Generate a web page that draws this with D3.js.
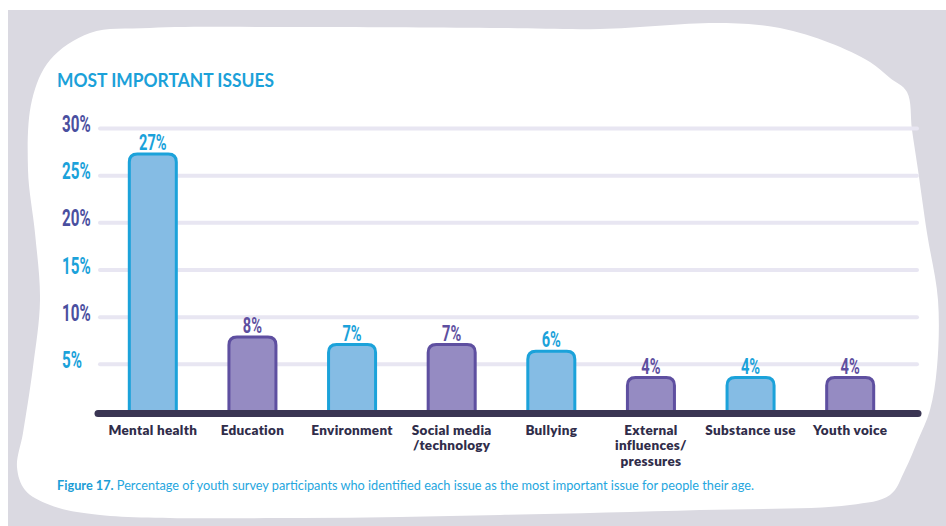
<!DOCTYPE html>
<html><head><meta charset="utf-8">
<script src="https://cdn.jsdelivr.net/npm/d3@7"></script>
<style>html,body{margin:0;padding:0;background:#fff;}svg{display:block;}</style>
</head><body>
<script>
const categories = [["Mental health"],["Education"],["Environment"],["Social media","/technology"],["Bullying"],["External","influences/","pressures"],["Substance use"],["Youth voice"]];
const values = [27.3, 7.9, 7.1, 7.1, 6.4, 3.6, 3.6, 3.6];
const valueLabels = ["27%","8%","7%","7%","6%","4%","4%","4%"];
const barGroup = ["blue","purple","blue","purple","blue","purple","blue","purple"];
const tickValues = [5,10,15,20,25,30];
const tickLabels = ["5%","10%","15%","20%","25%","30%"];
const title = "MOST IMPORTANT ISSUES";
const captionBold = "Figure 17.";
const captionText = " Percentage of youth survey participants who identified each issue as the most important issue for people their age.";

const W = 946, H = 526;
const svg = d3.select("body").append("svg").attr("width", W).attr("height", H);

// background
svg.append("rect").attr("x",8).attr("y",10).attr("width",W-8).attr("height",H-10).attr("fill","#dad9e1");
const blob = [[90,33],[150,28],[300,27],[500,28],[600,29],[720,23],[780,28],[830,43],[870,62],[890,78],[907,92],[912,130],[918,170],[927,233],[938,300],[937,367],[930,410],[918,440],[905,470],[890,495],[850,505],[700,510],[500,515],[300,518],[100,515],[50,505],[25,490],[17,467],[23,433],[33,367],[40,300],[35,233],[28,170],[32,100],[50,60]];
svg.append("path").attr("d", d3.line().curve(d3.curveCatmullRomClosed)(blob)).attr("fill","#fff");

const colors = {
  blue: {fill:"#85bce4", stroke:"#1ba2da", text:"#1ba2da"},
  purple: {fill:"#958bc2", stroke:"#5e4fa0", text:"#5e4fa0"}
};

const y = d3.scaleLinear().domain([0,30]).range([411.5,128.5]);
const x = d3.scaleBand().domain(d3.range(categories.length)).range([103,900]).paddingInner(0.528).paddingOuter(0.264);

// gridlines
svg.append("g").selectAll("line").data(tickValues).join("line")
  .attr("x1",100).attr("x2",917).attr("y1",d=>y(d)).attr("y2",d=>y(d))
  .attr("stroke","#e8e6f2").attr("stroke-width",4).attr("stroke-linecap","round");

// condensed text helper
const condensed = (sel, scale) => sel.each(function(){
  const t = d3.select(this);
  const xx = +t.attr("data-x"), yy = +t.attr("data-y");
  t.attr("transform", `translate(${xx},${yy}) scale(${scale},1)`);
});
svg.append("g").selectAll("text").data(tickValues).join("text")
  .attr("data-x",62).attr("data-y",d=>y(d)+3.5)
  .attr("font-family","Roboto").attr("font-weight",700).attr("font-size",23)
  .attr("fill",(d,i)=> i%2===0 ? "#1ba2da" : "#4a4f9f")
  .text((d,i)=>tickLabels[i])
  .call(condensed, 0.66);

// bars
const bw = x.bandwidth(), r = 8;
function barPath(i){
  const x0 = x(i), x1 = x0 + bw, top = y(values[i]), bot = y(0) + 2;
  return `M${x0},${bot} L${x0},${top+r} Q${x0},${top} ${x0+r},${top} L${x1-r},${top} Q${x1},${top} ${x1},${top+r} L${x1},${bot}`;
}
svg.append("g").selectAll("path").data(values).join("path")
  .attr("d",(d,i)=>barPath(i))
  .attr("fill",(d,i)=>colors[barGroup[i]].fill)
  .attr("stroke",(d,i)=>colors[barGroup[i]].stroke)
  .attr("stroke-width",3);

// value labels
svg.append("g").selectAll("text").data(values).join("text")
  .attr("data-x",(d,i)=>x(i)+bw/2).attr("data-y",d=>y(d)-4)
  .attr("text-anchor","middle")
  .attr("font-family","Roboto").attr("font-weight",700).attr("font-size",21.5)
  .attr("fill",(d,i)=>colors[barGroup[i]].text)
  .text((d,i)=>valueLabels[i])
  .call(condensed, 0.68);

// axis baseline
svg.append("line").attr("x1",98).attr("x2",918).attr("y1",y(0)+2).attr("y2",y(0)+2)
  .attr("stroke","#3a3553").attr("stroke-width",7).attr("stroke-linecap","round");

// category labels
const cat = svg.append("g").selectAll("text").data(categories).join("text")
  .attr("text-anchor","middle")
  .attr("font-family","Lato").attr("font-weight",800).attr("font-size",13.5)
  .attr("letter-spacing",0.3)
  .attr("fill","#302d4a");
cat.each(function(lines,i){
  const t = d3.select(this);
  lines.forEach((l,j)=>{
    t.append("tspan").attr("x",x(i)+bw/2).attr("y",434.5 + j*15.5).text(l);
  });
});

// title
svg.append("text").attr("x",57).attr("y",87)
  .attr("font-family","Lato").attr("font-weight",700).attr("font-size",18)
  .attr("fill","#1ba1d9").attr("textLength",217).attr("lengthAdjust","spacingAndGlyphs")
  .text(title);

// caption
const cap = svg.append("text").attr("x",0).attr("y",0)
  .attr("font-family","Lato").attr("font-size",13.5).attr("fill","#25a6de");
cap.append("tspan").attr("font-weight",700).attr("fill","#1b9dd6").text(captionBold);
cap.append("tspan").text(captionText);
const cw = cap.node().getComputedTextLength();
cap.attr("transform",`translate(57,490) scale(${698/cw},1)`);
</script>
</body></html>
